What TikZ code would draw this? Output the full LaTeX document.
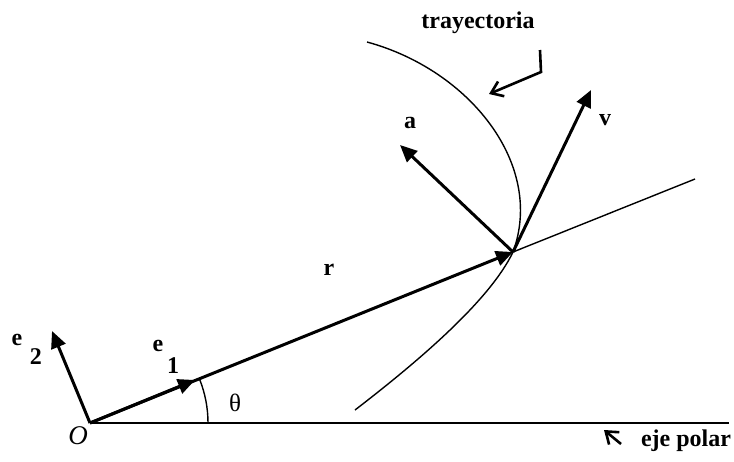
\documentclass[tikz,border=0pt]{standalone}
\usepackage{fontspec}
\setmainfont{Liberation Serif}
\usetikzlibrary{arrows.meta}
\begin{document}
\begin{tikzpicture}[x=1pt,y=-1pt,
  vec/.style={line width=3pt,-{Triangle[length=17pt,width=15pt]}},
  thin/.style={line width=1.4pt},
  lbl/.style={font=\fontsize{24}{28}\selectfont\bfseries, inner sep=0pt},
  ptr/.style={line width=2.6pt,-{Straight Barb[length=11pt,width=16pt]}}]
\useasboundingbox (0,0) rectangle (734,461);
% points
\coordinate (O) at (90,423);
\coordinate (P) at (513,252);
\coordinate (Rend) at (695,179);
\coordinate (Xend) at (729,423);
\coordinate (E1) at (195,380);
\coordinate (E2) at (52,331);
\coordinate (A) at (400,145);
\coordinate (V) at (591,90);
\coordinate (T0) at (367,42);
\coordinate (T1) at (355,410);
% polar axis and radial line
\draw[line width=2.6pt] (O) -- (Xend);
\draw[thin] (P) -- (Rend);
% trajectory
\draw[thin] (T0) .. controls (470,70) and (545,165) .. (P)
            .. controls (490,300) and (420,360) .. (T1);
% vectors
\draw[vec] (O) -- (P);
\draw[vec] (O) -- (E1);
\draw[vec] (O) -- (E2);
\draw[vec] (P) -- (A);
\draw[vec] (P) -- (V);
% angle arc
\draw[thin] (208,423) arc[start angle=0,end angle=-22,radius=118];
% labels
\node[lbl] (lr) at (329,270) {r};
\node[lbl] (la) at (410,123) {a};
\node[lbl] (lv) at (605,120) {v};
\node[lbl] (le1) at (158,346) {e};
\node[lbl] (le1s) at (173,366) {1};
\node[lbl] (le2) at (17,340) {e};
\node[lbl] (le2s) at (36,357) {2};
\node[font=\fontsize{25}{28}\selectfont, inner sep=0pt] (lth) at (235,403) {θ};
\node[font=\fontsize{27}{30}\selectfont\itshape, inner sep=0pt] (lO) at (78,436) {O};
\node[lbl] (ltr) at (478,23) {trayectoria};
\node[lbl] (lep) at (686,441) {eje polar};
% pointer arrows
\coordinate (tp0) at (540,50);
\coordinate (tp1) at (541,72);
\coordinate (tp2) at (489,94);
\draw[ptr] (tp0) -- (tp1) -- (tp2);
\coordinate (ep0) at (621,444);
\coordinate (ep1) at (604,430);
\draw[ptr] (ep0) -- (ep1);
\end{tikzpicture}
\end{document}
